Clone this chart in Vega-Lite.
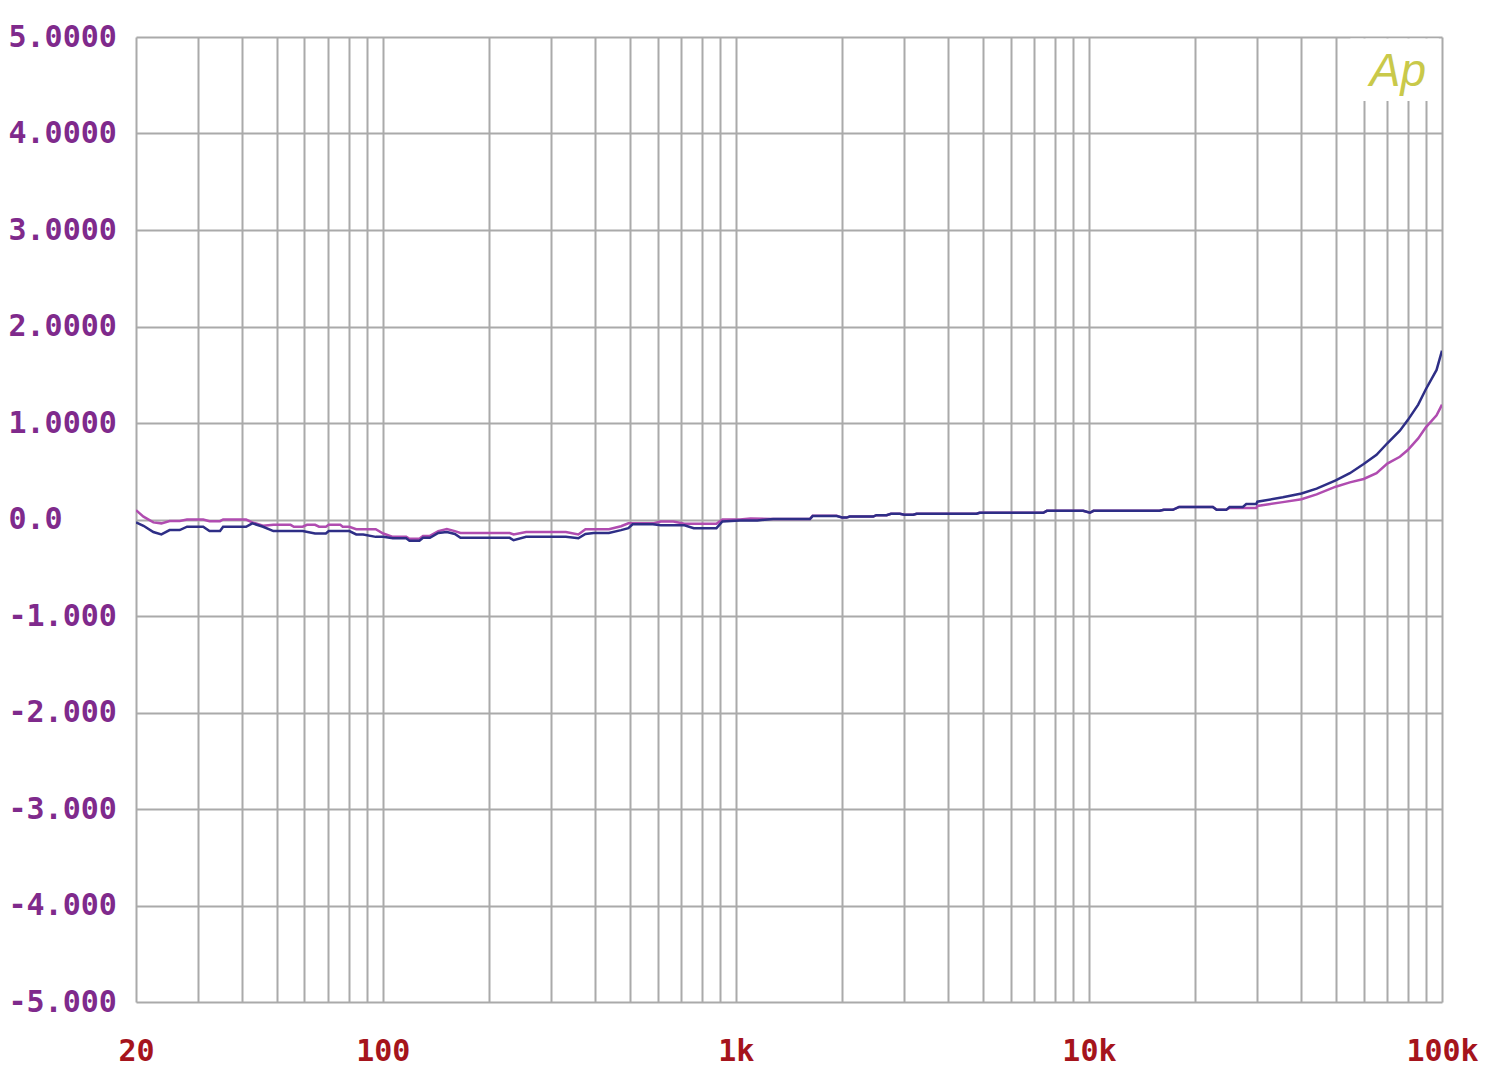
{
  "$schema": "https://vega.github.io/schema/vega-lite/v6.json",
  "width": 1306,
  "height": 965,
  "autosize": {"type": "none"},
  "padding": {"left": 136, "top": 37, "right": 58, "bottom": 70},
  "background": "white",
  "config": {"view": {"stroke": null}},
  "datasets": {
    "curves": [
      {"f": 20, "v": 0.097, "ch": "A"},
      {"f": 21, "v": 0.03, "ch": "A"},
      {"f": 22.4, "v": -0.03, "ch": "A"},
      {"f": 23.6, "v": -0.04, "ch": "A"},
      {"f": 24.9, "v": -0.015, "ch": "A"},
      {"f": 26.6, "v": -0.015, "ch": "A"},
      {"f": 27.9, "v": 0.0, "ch": "A"},
      {"f": 31, "v": 0.0, "ch": "A"},
      {"f": 32.3, "v": -0.017, "ch": "A"},
      {"f": 34.6, "v": -0.017, "ch": "A"},
      {"f": 35.3, "v": 0.0, "ch": "A"},
      {"f": 41, "v": 0.0, "ch": "A"},
      {"f": 42.7, "v": -0.03, "ch": "A"},
      {"f": 45.8, "v": -0.065, "ch": "A"},
      {"f": 49, "v": -0.055, "ch": "A"},
      {"f": 54.8, "v": -0.055, "ch": "A"},
      {"f": 56, "v": -0.075, "ch": "A"},
      {"f": 59.3, "v": -0.075, "ch": "A"},
      {"f": 61, "v": -0.055, "ch": "A"},
      {"f": 64.3, "v": -0.055, "ch": "A"},
      {"f": 66, "v": -0.075, "ch": "A"},
      {"f": 69, "v": -0.075, "ch": "A"},
      {"f": 70.3, "v": -0.055, "ch": "A"},
      {"f": 75.8, "v": -0.055, "ch": "A"},
      {"f": 77, "v": -0.075, "ch": "A"},
      {"f": 80.4, "v": -0.075, "ch": "A"},
      {"f": 84.1, "v": -0.1, "ch": "A"},
      {"f": 95.5, "v": -0.1, "ch": "A"},
      {"f": 100.3, "v": -0.145, "ch": "A"},
      {"f": 106.8, "v": -0.18, "ch": "A"},
      {"f": 116.5, "v": -0.18, "ch": "A"},
      {"f": 119, "v": -0.2, "ch": "A"},
      {"f": 127, "v": -0.2, "ch": "A"},
      {"f": 130, "v": -0.17, "ch": "A"},
      {"f": 136, "v": -0.17, "ch": "A"},
      {"f": 143.6, "v": -0.12, "ch": "A"},
      {"f": 151.9, "v": -0.1, "ch": "A"},
      {"f": 160, "v": -0.12, "ch": "A"},
      {"f": 166, "v": -0.14, "ch": "A"},
      {"f": 228.8, "v": -0.14, "ch": "A"},
      {"f": 234.7, "v": -0.155, "ch": "A"},
      {"f": 254.7, "v": -0.13, "ch": "A"},
      {"f": 330, "v": -0.13, "ch": "A"},
      {"f": 358, "v": -0.155, "ch": "A"},
      {"f": 375, "v": -0.1, "ch": "A"},
      {"f": 436.8, "v": -0.1, "ch": "A"},
      {"f": 473, "v": -0.07, "ch": "A"},
      {"f": 496, "v": -0.04, "ch": "A"},
      {"f": 582, "v": -0.04, "ch": "A"},
      {"f": 613, "v": -0.02, "ch": "A"},
      {"f": 665, "v": -0.02, "ch": "A"},
      {"f": 715, "v": -0.045, "ch": "A"},
      {"f": 881, "v": -0.045, "ch": "A"},
      {"f": 916, "v": 0.0, "ch": "A"},
      {"f": 1027, "v": 0.0, "ch": "A"},
      {"f": 1100, "v": 0.01, "ch": "A"},
      {"f": 1276, "v": 0.005, "ch": "A"},
      {"f": 1621, "v": 0.005, "ch": "A"},
      {"f": 1650, "v": 0.04, "ch": "A"},
      {"f": 1929, "v": 0.04, "ch": "A"},
      {"f": 2000, "v": 0.02, "ch": "A"},
      {"f": 2059, "v": 0.02, "ch": "A"},
      {"f": 2100, "v": 0.03, "ch": "A"},
      {"f": 2449, "v": 0.03, "ch": "A"},
      {"f": 2500, "v": 0.045, "ch": "A"},
      {"f": 2673, "v": 0.045, "ch": "A"},
      {"f": 2750, "v": 0.06, "ch": "A"},
      {"f": 2915, "v": 0.06, "ch": "A"},
      {"f": 3000, "v": 0.05, "ch": "A"},
      {"f": 3180, "v": 0.05, "ch": "A"},
      {"f": 3250, "v": 0.06, "ch": "A"},
      {"f": 4808, "v": 0.06, "ch": "A"},
      {"f": 4900, "v": 0.07, "ch": "A"},
      {"f": 7424, "v": 0.07, "ch": "A"},
      {"f": 7600, "v": 0.09, "ch": "A"},
      {"f": 9632, "v": 0.09, "ch": "A"},
      {"f": 10065, "v": 0.07, "ch": "A"},
      {"f": 10300, "v": 0.09, "ch": "A"},
      {"f": 15850, "v": 0.09, "ch": "A"},
      {"f": 16300, "v": 0.1, "ch": "A"},
      {"f": 17285, "v": 0.1, "ch": "A"},
      {"f": 18000, "v": 0.13, "ch": "A"},
      {"f": 22440, "v": 0.13, "ch": "A"},
      {"f": 23000, "v": 0.1, "ch": "A"},
      {"f": 24480, "v": 0.1, "ch": "A"},
      {"f": 25020, "v": 0.12, "ch": "A"},
      {"f": 29770, "v": 0.12, "ch": "A"},
      {"f": 30000, "v": 0.14, "ch": "A"},
      {"f": 35420, "v": 0.18, "ch": "A"},
      {"f": 40000, "v": 0.21, "ch": "A"},
      {"f": 44140, "v": 0.26, "ch": "A"},
      {"f": 50000, "v": 0.34, "ch": "A"},
      {"f": 54830, "v": 0.385, "ch": "A"},
      {"f": 60000, "v": 0.42, "ch": "A"},
      {"f": 65250, "v": 0.48, "ch": "A"},
      {"f": 70000, "v": 0.58, "ch": "A"},
      {"f": 75970, "v": 0.65, "ch": "A"},
      {"f": 80000, "v": 0.72, "ch": "A"},
      {"f": 85620, "v": 0.84, "ch": "A"},
      {"f": 90000, "v": 0.955, "ch": "A"},
      {"f": 96520, "v": 1.08, "ch": "A"},
      {"f": 100000, "v": 1.19, "ch": "A"},

      {"f": 20, "v": -0.03, "ch": "B"},
      {"f": 21, "v": -0.065, "ch": "B"},
      {"f": 22.4, "v": -0.13, "ch": "B"},
      {"f": 23.6, "v": -0.155, "ch": "B"},
      {"f": 24.9, "v": -0.11, "ch": "B"},
      {"f": 26.6, "v": -0.11, "ch": "B"},
      {"f": 27.9, "v": -0.075, "ch": "B"},
      {"f": 31, "v": -0.075, "ch": "B"},
      {"f": 32.3, "v": -0.12, "ch": "B"},
      {"f": 34.6, "v": -0.12, "ch": "B"},
      {"f": 35.3, "v": -0.075, "ch": "B"},
      {"f": 41, "v": -0.075, "ch": "B"},
      {"f": 42.7, "v": -0.04, "ch": "B"},
      {"f": 45.8, "v": -0.075, "ch": "B"},
      {"f": 49, "v": -0.12, "ch": "B"},
      {"f": 59.3, "v": -0.12, "ch": "B"},
      {"f": 64.3, "v": -0.145, "ch": "B"},
      {"f": 69, "v": -0.145, "ch": "B"},
      {"f": 70.3, "v": -0.12, "ch": "B"},
      {"f": 80.4, "v": -0.12, "ch": "B"},
      {"f": 84.1, "v": -0.155, "ch": "B"},
      {"f": 88, "v": -0.155, "ch": "B"},
      {"f": 95.5, "v": -0.18, "ch": "B"},
      {"f": 100.3, "v": -0.18, "ch": "B"},
      {"f": 106.8, "v": -0.195, "ch": "B"},
      {"f": 116.5, "v": -0.195, "ch": "B"},
      {"f": 119, "v": -0.22, "ch": "B"},
      {"f": 127, "v": -0.22, "ch": "B"},
      {"f": 130, "v": -0.19, "ch": "B"},
      {"f": 136, "v": -0.19, "ch": "B"},
      {"f": 143.6, "v": -0.14, "ch": "B"},
      {"f": 151.9, "v": -0.13, "ch": "B"},
      {"f": 160, "v": -0.15, "ch": "B"},
      {"f": 166, "v": -0.19, "ch": "B"},
      {"f": 228.8, "v": -0.19, "ch": "B"},
      {"f": 234.7, "v": -0.215, "ch": "B"},
      {"f": 254.7, "v": -0.18, "ch": "B"},
      {"f": 330, "v": -0.18, "ch": "B"},
      {"f": 358, "v": -0.195, "ch": "B"},
      {"f": 375, "v": -0.15, "ch": "B"},
      {"f": 395.7, "v": -0.14, "ch": "B"},
      {"f": 436.8, "v": -0.14, "ch": "B"},
      {"f": 473, "v": -0.11, "ch": "B"},
      {"f": 496, "v": -0.09, "ch": "B"},
      {"f": 510, "v": -0.05, "ch": "B"},
      {"f": 582, "v": -0.05, "ch": "B"},
      {"f": 613, "v": -0.06, "ch": "B"},
      {"f": 715, "v": -0.06, "ch": "B"},
      {"f": 760, "v": -0.09, "ch": "B"},
      {"f": 881, "v": -0.09, "ch": "B"},
      {"f": 916, "v": -0.02, "ch": "B"},
      {"f": 1027, "v": -0.01, "ch": "B"},
      {"f": 1150, "v": -0.01, "ch": "B"},
      {"f": 1276, "v": 0.005, "ch": "B"},
      {"f": 1621, "v": 0.005, "ch": "B"},
      {"f": 1650, "v": 0.035, "ch": "B"},
      {"f": 1929, "v": 0.035, "ch": "B"},
      {"f": 2000, "v": 0.02, "ch": "B"},
      {"f": 2059, "v": 0.02, "ch": "B"},
      {"f": 2100, "v": 0.03, "ch": "B"},
      {"f": 2449, "v": 0.03, "ch": "B"},
      {"f": 2500, "v": 0.045, "ch": "B"},
      {"f": 2673, "v": 0.045, "ch": "B"},
      {"f": 2750, "v": 0.06, "ch": "B"},
      {"f": 2915, "v": 0.06, "ch": "B"},
      {"f": 3000, "v": 0.05, "ch": "B"},
      {"f": 3180, "v": 0.05, "ch": "B"},
      {"f": 3250, "v": 0.06, "ch": "B"},
      {"f": 4808, "v": 0.06, "ch": "B"},
      {"f": 4900, "v": 0.07, "ch": "B"},
      {"f": 7424, "v": 0.07, "ch": "B"},
      {"f": 7600, "v": 0.09, "ch": "B"},
      {"f": 9632, "v": 0.09, "ch": "B"},
      {"f": 10065, "v": 0.07, "ch": "B"},
      {"f": 10300, "v": 0.09, "ch": "B"},
      {"f": 15850, "v": 0.09, "ch": "B"},
      {"f": 16300, "v": 0.1, "ch": "B"},
      {"f": 17285, "v": 0.1, "ch": "B"},
      {"f": 18000, "v": 0.13, "ch": "B"},
      {"f": 22440, "v": 0.13, "ch": "B"},
      {"f": 23000, "v": 0.1, "ch": "B"},
      {"f": 24480, "v": 0.1, "ch": "B"},
      {"f": 25020, "v": 0.13, "ch": "B"},
      {"f": 27290, "v": 0.13, "ch": "B"},
      {"f": 27900, "v": 0.16, "ch": "B"},
      {"f": 29770, "v": 0.16, "ch": "B"},
      {"f": 30000, "v": 0.185, "ch": "B"},
      {"f": 35420, "v": 0.23, "ch": "B"},
      {"f": 40000, "v": 0.27, "ch": "B"},
      {"f": 44140, "v": 0.32, "ch": "B"},
      {"f": 50000, "v": 0.405, "ch": "B"},
      {"f": 54830, "v": 0.48, "ch": "B"},
      {"f": 60000, "v": 0.575, "ch": "B"},
      {"f": 65250, "v": 0.67, "ch": "B"},
      {"f": 70000, "v": 0.79, "ch": "B"},
      {"f": 75970, "v": 0.92, "ch": "B"},
      {"f": 80000, "v": 1.03, "ch": "B"},
      {"f": 85620, "v": 1.19, "ch": "B"},
      {"f": 90000, "v": 1.35, "ch": "B"},
      {"f": 96520, "v": 1.55, "ch": "B"},
      {"f": 100000, "v": 1.75, "ch": "B"}
    ]
  },
  "layer": [
    {
      "data": {"name": "curves"},
      "mark": {"type": "line", "strokeWidth": 2.5, "clip": true},
      "encoding": {
        "x": {
          "field": "f",
          "type": "quantitative",
          "scale": {"type": "log", "domain": [20, 100000], "nice": false},
          "axis": {
            "title": null,
            "values": [20, 30, 40, 50, 60, 70, 80, 90, 100, 200, 300, 400, 500, 600, 700, 800, 900, 1000, 2000, 3000, 4000, 5000, 6000, 7000, 8000, 9000, 10000, 20000, 30000, 40000, 50000, 60000, 70000, 80000, 90000, 100000],
            "labelExpr": "datum.value == 20 ? '20' : datum.value == 100 ? '100' : datum.value == 1000 ? '1k' : datum.value == 10000 ? '10k' : datum.value == 100000 ? '100k' : ''",
            "labelOverlap": false,
            "labelFlush": false,
            "labelFont": "DejaVu Sans Mono",
            "labelFontWeight": "bold",
            "labelFontSize": 30,
            "labelColor": "#a5141c",
            "labelPadding": 34,
            "labelBaseline": "top",
            "ticks": false,
            "tickSize": 0,
            "domain": false,
            "grid": true,
            "gridColor": "#aaaaaa",
            "gridWidth": 2,
            "gridOpacity": 1
          }
        },
        "y": {
          "field": "v",
          "type": "quantitative",
          "scale": {"domain": [-5, 5], "nice": false, "zero": false},
          "axis": {
            "title": null,
            "values": [-5, -4, -3, -2, -1, 0, 1, 2, 3, 4, 5],
            "labelExpr": "datum.value == 0 ? '0.0' : datum.value > 0 ? format(datum.value, '.4f') : '-' + format(-datum.value, '.3f')",
            "labelOverlap": false,
            "labelFlush": false,
            "labelAlign": "left",
            "labelBaseline": "middle",
            "labelFont": "DejaVu Sans Mono",
            "labelFontWeight": "bold",
            "labelFontSize": 30,
            "labelColor": "#7f2a8c",
            "labelPadding": 128,
            "ticks": false,
            "tickSize": 0,
            "domain": false,
            "grid": true,
            "gridColor": "#aaaaaa",
            "gridWidth": 2,
            "gridOpacity": 1
          }
        },
        "color": {
          "field": "ch",
          "type": "nominal",
          "scale": {"domain": ["A", "B"], "range": ["#b04cb0", "#2e2e86"]},
          "legend": null
        }
      }
    },
    {
      "data": {"values": [{}]},
      "mark": {"type": "rect", "color": "white"},
      "encoding": {
        "x": {"datum": 55000, "type": "quantitative"},
        "x2": {"datum": 98000},
        "y": {"datum": 4.337, "type": "quantitative"},
        "y2": {"datum": 4.985}
      }
    },
    {
      "data": {"values": [{}]},
      "mark": {"type": "text", "font": "Liberation Sans", "fontStyle": "italic", "fontSize": 46, "color": "#c9c94a", "align": "center", "baseline": "alphabetic"},
      "encoding": {
        "x": {"datum": 75000, "type": "quantitative"},
        "y": {"datum": 4.49, "type": "quantitative"},
        "text": {"value": "Ap"}
      }
    }
  ]
}
